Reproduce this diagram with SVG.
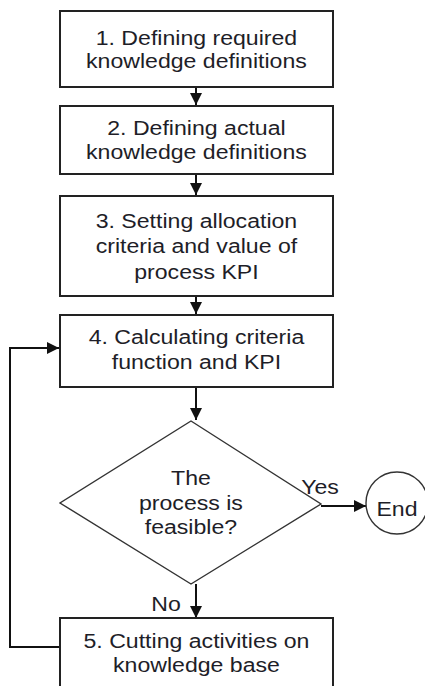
<svg xmlns="http://www.w3.org/2000/svg" width="425" height="686" viewBox="0 0 425 686">
<style>
.box{fill:#fff;stroke:#222;stroke-width:2}
.shape{fill:#fff;stroke:#333;stroke-width:1.4}
.t{font-family:"Liberation Sans",Arial,sans-serif;font-size:21px;fill:#1e1e28;text-anchor:middle}
.c{fill:none;stroke:#111;stroke-width:2}
</style>
<defs>
<marker id="ah" markerWidth="12" markerHeight="12" refX="12" refY="6" orient="auto" markerUnits="userSpaceOnUse">
<path d="M0,0 L12,6 L0,12 Z" fill="#111"/>
</marker>
</defs>
<rect width="425" height="686" fill="#fff"/>
<g id="connectors">
<line class="c" x1="196" y1="88" x2="196" y2="105" marker-end="url(#ah)"/>
<line class="c" x1="196" y1="175" x2="196" y2="195" marker-end="url(#ah)"/>
<line class="c" x1="196" y1="297" x2="196" y2="314" marker-end="url(#ah)"/>
<line class="c" x1="196" y1="387" x2="196" y2="420" marker-end="url(#ah)"/>
<line class="c" x1="321" y1="506" x2="366" y2="506" marker-end="url(#ah)"/>
<line class="c" x1="196" y1="584" x2="196" y2="618" marker-end="url(#ah)"/>
<path class="c" d="M60,647 H10 V348 H59" marker-end="url(#ah)"/>
<text class="t" transform="scale(1.1,1)" x="290.9" y="494">Yes</text>
<text class="t" transform="scale(1.1,1)" x="150.9" y="611">No</text>
</g>
<g id="n1">
<rect class="box" x="60" y="11" width="273" height="76"/>
<text class="t" transform="scale(1.1,1)" x="178.6" y="45.5">1. Defining required</text>
<text class="t" transform="scale(1.1,1)" x="178.6" y="68.5">knowledge definitions</text>
</g>
<g id="n2">
<rect class="box" x="60" y="106" width="273" height="68"/>
<text class="t" transform="scale(1.1,1)" x="178.6" y="135">2. Defining actual</text>
<text class="t" transform="scale(1.1,1)" x="178.6" y="159">knowledge definitions</text>
</g>
<g id="n3">
<rect class="box" x="60" y="196" width="273" height="100"/>
<text class="t" transform="scale(1.1,1)" x="178.6" y="228.5">3. Setting allocation</text>
<text class="t" transform="scale(1.1,1)" x="178.6" y="253.5">criteria and value of</text>
<text class="t" transform="scale(1.1,1)" x="178.6" y="279">process KPI</text>
</g>
<g id="n4">
<rect class="box" x="60" y="315" width="273" height="72"/>
<text class="t" transform="scale(1.1,1)" x="178.6" y="344.5">4. Calculating criteria</text>
<text class="t" transform="scale(1.1,1)" x="178.6" y="369.5">function and KPI</text>
</g>
<g id="decision">
<polygon class="shape" points="191,421 321,504 191,584 60,503"/>
<text class="t" transform="scale(1.1,1)" x="173.6" y="485">The</text>
<text class="t" transform="scale(1.1,1)" x="173.6" y="510">process is</text>
<text class="t" transform="scale(1.1,1)" x="173.6" y="534">feasible?</text>
</g>
<g id="end">
<circle class="shape" cx="397" cy="503" r="31"/>
<text class="t" transform="scale(1.1,1)" x="360.9" y="516.5">End</text>
</g>
<g id="n5">
<rect class="box" x="60" y="618" width="273" height="80"/>
<text class="t" transform="scale(1.1,1)" x="178.6" y="648.5">5. Cutting activities on</text>
<text class="t" transform="scale(1.1,1)" x="178.6" y="672">knowledge base</text>
</g>
</svg>
